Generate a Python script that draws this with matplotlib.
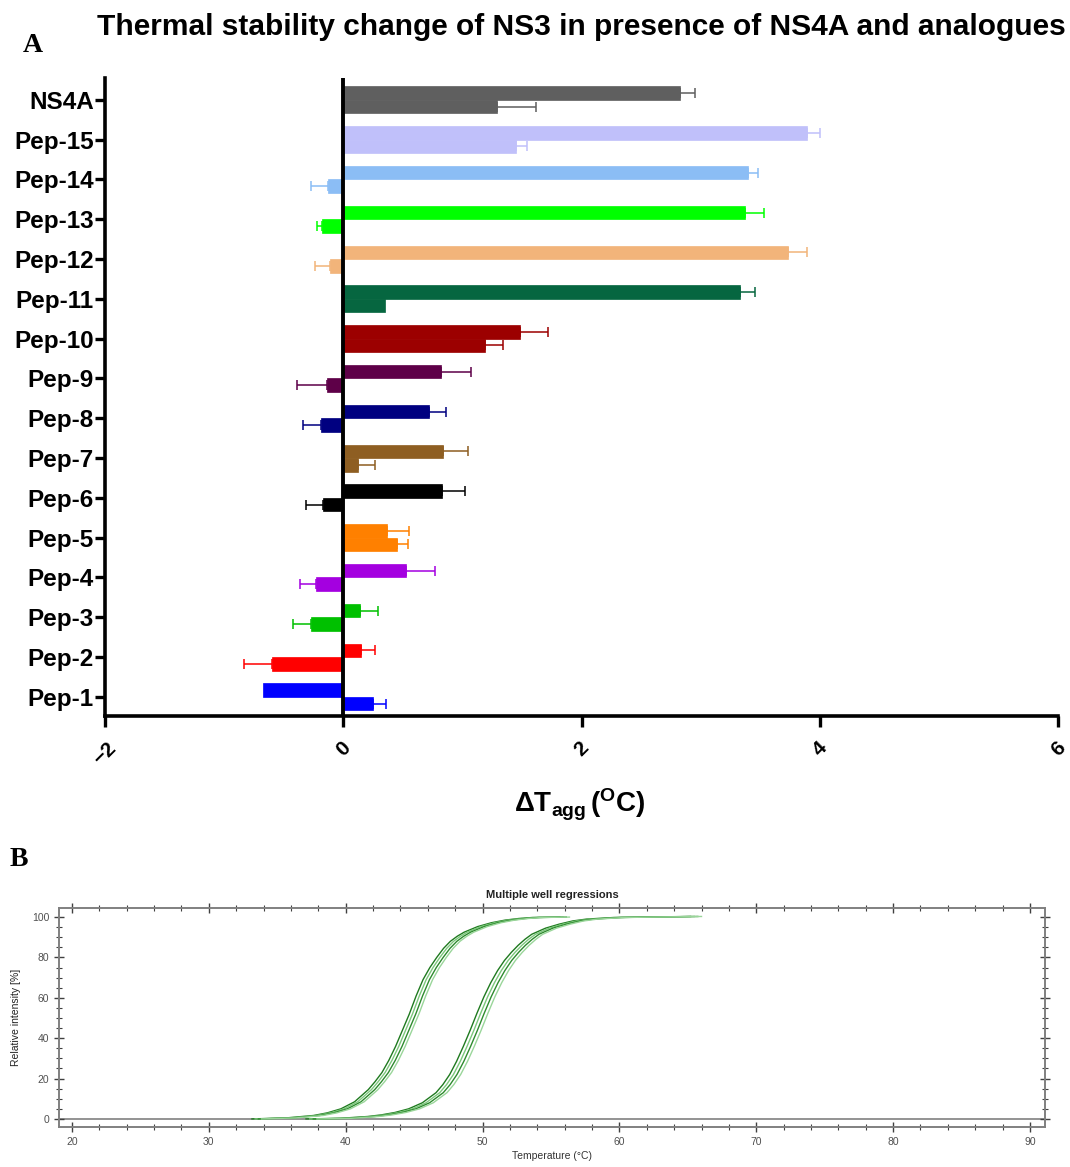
import matplotlib
matplotlib.use("Agg")
import matplotlib.pyplot as plt
import numpy as np
from matplotlib.ticker import MultipleLocator

plt.rcParams['font.family'] = ['Liberation Sans', 'DejaVu Sans']
plt.rcParams['mathtext.fontset'] = 'custom'
plt.rcParams['mathtext.rm'] = 'Liberation Sans'
plt.rcParams['mathtext.bf'] = 'Liberation Sans:bold'
plt.rcParams['mathtext.it'] = 'Liberation Sans:italic'

# ---------------- Panel A data (top to bottom as drawn) ----------------
labels = ['NS4A', 'Pep-15', 'Pep-14', 'Pep-13', 'Pep-12', 'Pep-11', 'Pep-10', 'Pep-9',
          'Pep-8', 'Pep-7', 'Pep-6', 'Pep-5', 'Pep-4', 'Pep-3', 'Pep-2', 'Pep-1']
upper_vals = [2.83, 3.89, 3.40, 3.37, 3.73, 3.33, 1.48, 0.82, 0.72, 0.84, 0.83, 0.37, 0.53, 0.14, 0.15, -0.67]
upper_err = [0.12, 0.11, 0.08, 0.16, 0.16, 0.13, 0.24, 0.25, 0.14, 0.21, 0.19, 0.18, 0.24, 0.15, 0.12, 0.0]
lower_vals = [1.29, 1.45, -0.13, -0.18, -0.11, 0.35, 1.19, -0.14, -0.19, 0.125, -0.17, 0.45, -0.23, -0.27, -0.60, 0.25]
lower_err = [0.33, 0.09, 0.14, 0.04, 0.13, 0.0, 0.15, 0.25, 0.15, 0.14, 0.14, 0.09, 0.13, 0.15, 0.23, 0.11]
colors = ['#5f5f5f', '#c0c0fa', '#8bbdf5', '#00ff00', '#f2b47a', '#066640', '#9c0000', '#5e0048',
          '#000080', '#8e5e22', '#000000', '#ff8000', '#a400e0', '#00c000', '#ff0000', '#0000ff']
x_ticks = [-2, 0, 2, 4, 6]

# ---------------- Panel B data ----------------
g1_temp = [33.5, 36, 38, 39, 40, 41, 42, 42.5, 43, 43.5, 44, 44.5, 45, 45.5, 46, 46.5, 47, 47.5,
           48, 48.5, 49, 50, 51, 52, 53, 54, 56]
g1_int = [0, 0.5, 1.7, 3, 5, 8.5, 14.5, 18.5, 23, 29, 36, 44, 52, 61, 69, 75, 80, 84.5,
          88, 90.5, 92.5, 95.3, 97.2, 98.5, 99.3, 99.8, 100]
g2_temp = [37.5, 40, 42, 43, 44, 45, 46, 47, 47.5, 48, 48.5, 49, 49.5, 50, 50.5, 51, 51.5, 52,
           52.5, 53, 53.5, 54, 55, 56, 57, 58, 60, 62, 65.6]
g2_int = [0, 0.3, 1.2, 2, 3.2, 5, 8, 13, 17, 22, 28.5, 36, 44, 52.5, 60.5, 67.5, 73.5, 78.5,
          82.5, 86, 89, 91.5, 94.5, 96.5, 98.1, 99, 99.8, 100, 100.3]
well_shift_g1 = [-0.35, -0.12, 0.12, 0.35]
well_shift_g2 = [-0.4, -0.13, 0.13, 0.4]
well_colors = ['#1f7a1f', '#7cc87c', '#2e8b2e', '#9ad69a']

W, H = 1070, 1167
fig = plt.figure(figsize=(W / 100, H / 100), dpi=100)

def fx(px):
    return px / W

def fy(py):
    return 1 - py / H

# ---------------- Panel A ----------------
axA = fig.add_axes([fx(105), fy(716), fx(1058) - fx(105), fy(78) - fy(716)])
n = len(labels)
ypos = np.arange(n)[::-1]  # NS4A at top
bh = 0.34
for i in range(n):
    y = ypos[i]
    c = colors[i]
    for val, err, yc in ((upper_vals[i], upper_err[i], y + bh / 2), (lower_vals[i], lower_err[i], y - bh / 2)):
        axA.barh(yc, val, height=bh, color=c, edgecolor=c, linewidth=0.5, zorder=2)
        if err > 0:
            xe = [[0], [err]] if val >= 0 else [[err], [0]]
            axA.errorbar(val, yc, xerr=xe, fmt='none', ecolor=c, elinewidth=1.3,
                         capsize=3.5, capthick=1.3, alpha=0.85, zorder=3)

axA.axvline(0, color='black', lw=2.8, zorder=4)
axA.set_xlim(-2, 6)
axA.set_ylim(-0.48, n - 1 + 0.55)
axA.set_yticks(ypos)
axA.set_yticklabels(labels, fontsize=17.5, fontweight='bold')
axA.set_xticks(x_ticks)
axA.set_xticklabels([str(v).replace('-', '\u2212') for v in x_ticks], fontsize=15,
                    fontweight='bold', rotation=45)
for s in ('top', 'right'):
    axA.spines[s].set_visible(False)
for s in ('left', 'bottom'):
    axA.spines[s].set_linewidth(2.6)
axA.tick_params(axis='y', length=7, width=2.4, pad=1)
axA.tick_params(axis='x', length=8, width=2.4, pad=8)

fig.text(fx(581), fy(27), 'Thermal stability change of NS3 in presence of NS4A and analogues',
         ha='center', va='center', fontsize=21.5, fontweight='bold')
fig.text(fx(33), fy(45), 'A', ha='center', va='center', fontsize=20, fontweight='bold',
         family=['Liberation Serif', 'DejaVu Serif'])
fig.text(fx(580), fy(805), r'$\mathbf{\Delta T_{agg}\,(^{O}C)}$', ha='center', va='center', fontsize=20)

# ---------------- Panel B ----------------
fig.text(fx(19), fy(860), 'B', ha='center', va='center', fontsize=20, fontweight='bold',
         family=['Liberation Serif', 'DejaVu Serif'])
axB = fig.add_axes([fx(59), fy(1127), fx(1045) - fx(59), fy(908) - fy(1127)])
axB.set_xlim(19.05, 91.1)
axB.set_ylim(-4, 104.5)
axB.axhline(0, color='#808080', lw=1.2, zorder=1)
for k, sh in enumerate(well_shift_g1):
    axB.plot(np.array(g1_temp) + sh, g1_int, color=well_colors[k], lw=1.0, zorder=2)
for k, sh in enumerate(well_shift_g2):
    axB.plot(np.array(g2_temp) + sh, g2_int, color=well_colors[k], lw=1.0, zorder=2)
for s in axB.spines.values():
    s.set_color('#808080')
    s.set_linewidth(1.4)
axB.xaxis.set_major_locator(MultipleLocator(10))
axB.xaxis.set_minor_locator(MultipleLocator(2))
axB.yaxis.set_major_locator(MultipleLocator(20))
axB.yaxis.set_minor_locator(MultipleLocator(5))
axB.set_yticks([0, 20, 40, 60, 80, 100])
axB.tick_params(which='both', direction='inout', top=True, right=True, colors='#404040',
                labelcolor='#505050', labelsize=7.5)
axB.tick_params(which='major', length=7, width=1.0)
axB.tick_params(which='minor', length=4, width=0.8)
axB.set_title('Multiple well regressions', fontsize=8, fontweight='bold', pad=7, color='#222222')
axB.set_xlabel('Temperature (\u00b0C)', fontsize=7.5, labelpad=3, color='#333333')
axB.set_ylabel('Relative intensity [%]', fontsize=7.5, labelpad=8, color='#222222')

fig.savefig('out.png', dpi=100, facecolor='white')
